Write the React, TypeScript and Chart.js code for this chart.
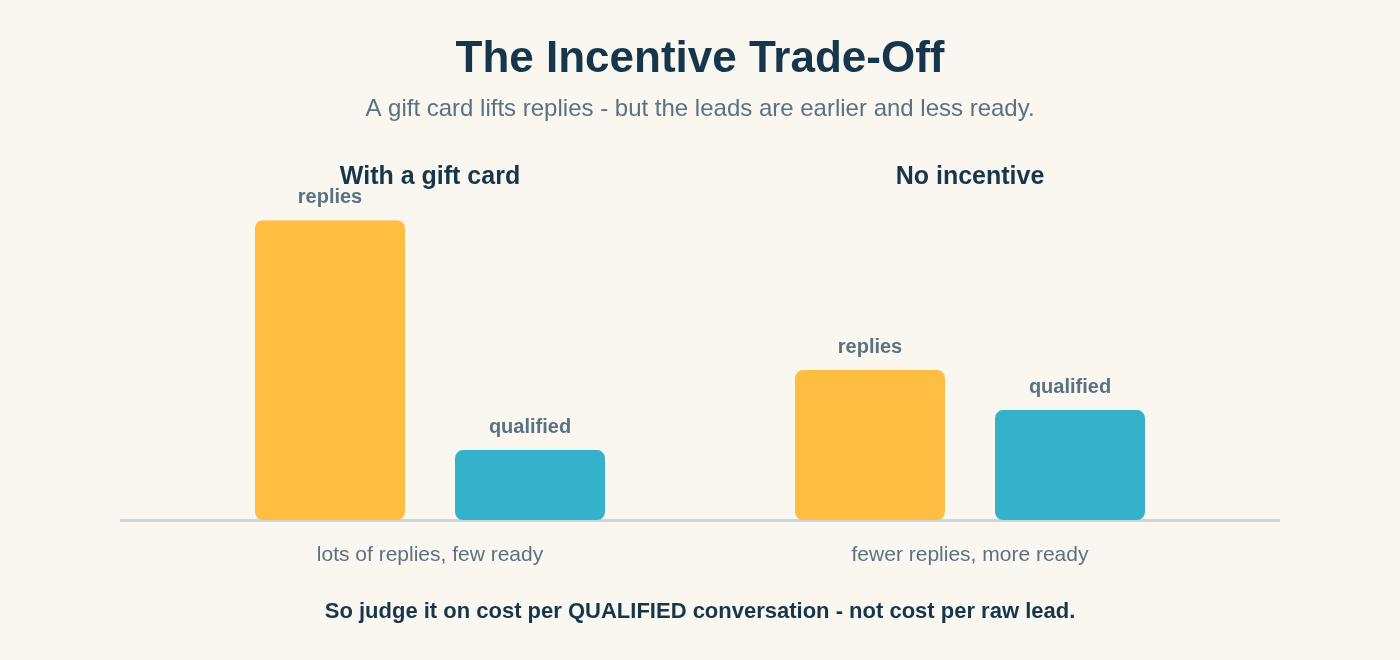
import React, { useEffect, useRef } from "react";
import { Chart, registerables } from "chart.js";

Chart.register(...registerables);

const TITLE = "The Incentive Trade-Off";
const SUBTITLE = "A gift card lifts replies - but the leads are earlier and less ready.";
const FOOTER = "So judge it on cost per QUALIFIED conversation - not cost per raw lead.";
const groupTitles = ["With a gift card", "No incentive"];
const categoryLabels = ["lots of replies, few ready", "fewer replies, more ready"];
const seriesNames = ["replies", "qualified"];
const repliesValues = [30, 15];
const qualifiedValues = [7, 11];
const Y_MAX = 30;

const FONT = '"Liberation Sans", Arial, Helvetica, sans-serif';
const NAVY = "#16374B";
const GRAY = "#5B7380";
const BG = "#FAF6F0";
const YELLOW = "#FFBE41";
const TEAL = "#35B1CB";
const BASE = "#CBD7DC";

const annotPlugin = {
  id: "annot",
  beforeDraw(chart: any) {
    const { ctx, width, height } = chart;
    ctx.save();
    ctx.fillStyle = BG;
    ctx.fillRect(0, 0, width, height);
    ctx.restore();
  },
  beforeDatasetsDraw(chart: any) {
    const { ctx, chartArea } = chart;
    ctx.save();
    ctx.strokeStyle = BASE;
    ctx.lineWidth = 3;
    ctx.beginPath();
    ctx.moveTo(chartArea.left - 40, chartArea.bottom + 0.5);
    ctx.lineTo(chartArea.right + 40, chartArea.bottom + 0.5);
    ctx.stroke();
    ctx.restore();
  },
  afterDraw(chart: any) {
    const { ctx } = chart;
    const xScale = chart.scales.x;
    ctx.save();
    ctx.textAlign = "center";
    ctx.textBaseline = "middle";
    ctx.font = `bold 20px ${FONT}`;
    ctx.fillStyle = GRAY;
    chart.data.datasets.forEach((ds: any, i: number) => {
      const meta = chart.getDatasetMeta(i);
      meta.data.forEach((bar: any) => {
        ctx.fillText(ds.label, bar.x, bar.y - 23);
      });
    });
    ctx.font = `bold 25px ${FONT}`;
    ctx.fillStyle = NAVY;
    groupTitles.forEach((t, i) => {
      ctx.fillText(t, xScale.getPixelForValue(i), 177);
    });
    ctx.font = `bold 22px ${FONT}`;
    ctx.fillStyle = NAVY;
    ctx.fillText(FOOTER, chart.width / 2, 612);
    ctx.restore();
  },
};

export default function App() {
  const ref = useRef<HTMLCanvasElement>(null);
  useEffect(() => {
    document.body.style.margin = "0";
    document.body.style.background = BG;
    const chart = new Chart(ref.current!, {
      type: "bar",
      data: {
        labels: categoryLabels,
        datasets: [
          {
            label: seriesNames[0],
            data: repliesValues,
            backgroundColor: YELLOW,
            borderRadius: 8,
            borderSkipped: false,
            categoryPercentage: 400 / 540,
            barPercentage: 0.75,
          },
          {
            label: seriesNames[1],
            data: qualifiedValues,
            backgroundColor: TEAL,
            borderRadius: 8,
            borderSkipped: false,
            categoryPercentage: 400 / 540,
            barPercentage: 0.75,
          },
        ],
      },
      options: {
        responsive: false,
        animation: false,
        layout: { padding: { left: 160, right: 160, top: 0, bottom: 68.8 } },
        plugins: {
          legend: { display: false },
          tooltip: { enabled: false },
          title: {
            display: true,
            text: TITLE,
            color: NAVY,
            font: { family: FONT, size: 44, weight: "bold" },
            padding: { top: 33, bottom: 0 },
          },
          subtitle: {
            display: true,
            text: SUBTITLE,
            color: GRAY,
            font: { family: FONT, size: 24, weight: "normal" },
            padding: { top: 9, bottom: 96.6 },
          },
        },
        scales: {
          x: {
            grid: { display: false, drawTicks: false },
            border: { display: false },
            ticks: {
              color: GRAY,
              font: { family: FONT, size: 21 },
              padding: 23,
            },
          },
          y: {
            display: false,
            min: 0,
            max: Y_MAX,
          },
        },
      },
      plugins: [annotPlugin],
    });
    return () => chart.destroy();
  }, []);
  return (
    <div style={{ width: 1400, height: 660, background: BG }}>
      <canvas ref={ref} width={1400} height={660} style={{ display: "block" }} />
    </div>
  );
}
